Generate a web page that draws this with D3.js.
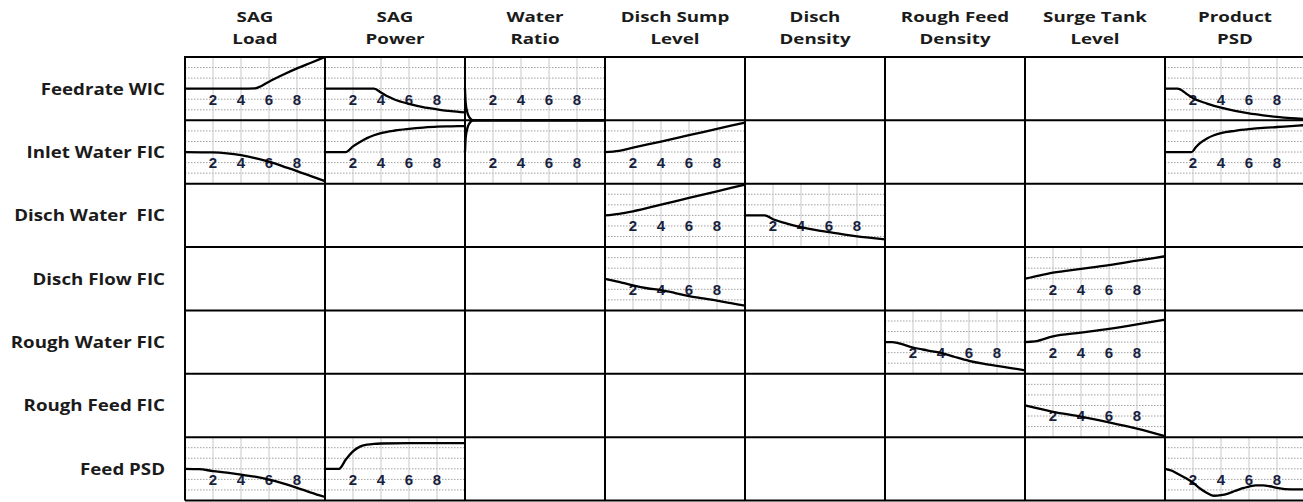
<!DOCTYPE html>
<html>
<head>
<meta charset="utf-8">
<script src="https://cdn.jsdelivr.net/npm/d3@7"></script>
<style>
  body { margin: 0; background: #fff; }
  svg text { white-space: pre; }
</style>
</head>
<body>
<svg width="1303" height="502"></svg>
<script>
// outputs (columns) and inputs (rows)
var colHeads = [["SAG", "Load"], ["SAG", "Power"], ["Water", "Ratio"], ["Disch Sump", "Level"],
                ["Disch", "Density"], ["Rough Feed", "Density"], ["Surge Tank", "Level"], ["Product", "PSD"]];
var rowHeads = ["Feedrate WIC", "Inlet Water FIC", "Disch Water  FIC", "Disch Flow FIC",
                "Rough Water FIC", "Rough Feed FIC", "Feed PSD"];
var xTicks = [2, 4, 6, 8];

// step responses, [time, normalised response]
var feedSagLoad = [[0,0],[4,0],[5,0.01],[6,0.22],[7,0.44],[8,0.64],[9,0.82],[10,1.0]];
var feedSagPower = [[0,0],[3.5,0],[4,-0.12],[4.5,-0.25],[5,-0.35],[6,-0.48],[7,-0.58],[8,-0.65],[9,-0.71],[10,-0.75]];
var feedWaterRatio = [[0,0],[0.05,-0.45],[0.15,-0.72],[0.3,-0.9],[0.6,-1],[10,-1]];
var feedProductPsd = [[0,0],[0.9,0],[1.5,-0.15],[2,-0.3],[3,-0.47],[4,-0.6],[5,-0.7],[6,-0.78],[7,-0.84],[8,-0.89],[9,-0.93],[10,-0.96]];
var inletSagLoad = [[0,0],[2,-0.01],[3,-0.04],[4,-0.1],[5,-0.19],[6,-0.3],[7,-0.45],[8,-0.6],[9,-0.76],[10,-0.92]];
var inletSagPower = [[0,0],[1.5,0],[2,0.18],[2.5,0.32],[3,0.44],[3.5,0.53],[4,0.6],[5,0.68],[6,0.73],[7,0.77],[8,0.8],[9,0.81],[10,0.82]];
var inletWaterRatio = [[0,0],[0.05,0.45],[0.15,0.72],[0.3,0.9],[0.6,1],[10,1]];
var inletSumpLevel = [[0,0],[1,0.04],[2,0.14],[4,0.33],[6,0.53],[8,0.73],[10,0.93]];
var inletProductPsd = [[0,0],[1.9,0],[2.2,0.15],[2.5,0.28],[3,0.43],[3.5,0.53],[4,0.6],[5,0.67],[6,0.72],[7,0.76],[8,0.79],[9,0.82],[10,0.85]];
var dischWaterSumpLevel = [[0,0],[1,0.05],[2,0.13],[4,0.34],[6,0.55],[8,0.76],[10,0.97]];
var dischWaterDensity = [[0,0],[1.4,0],[2,-0.12],[3,-0.26],[4,-0.37],[5,-0.46],[6,-0.53],[7,-0.6],[8,-0.66],[9,-0.71],[10,-0.76]];
var dischFlowSumpLevel = [[0,0],[1,-0.1],[2,-0.21],[3,-0.3],[4,-0.36],[5,-0.45],[6,-0.55],[7,-0.62],[8,-0.69],[9,-0.77],[10,-0.85]];
var dischFlowSurge = [[0,0],[1,0.1],[2,0.19],[4,0.31],[6,0.43],[8,0.57],[10,0.71]];
var roughWaterDensity = [[0,0],[0.5,0],[1,-0.04],[2,-0.17],[3,-0.26],[4,-0.34],[5,-0.47],[6,-0.59],[7,-0.68],[8,-0.75],[9,-0.82],[10,-0.89]];
var roughWaterSurge = [[0,0],[0.7,0.02],[2,0.18],[4,0.3],[6,0.42],[8,0.56],[10,0.71]];
var roughFeedSurge = [[0,0],[2,-0.2],[4,-0.35],[6,-0.53],[8,-0.73],[10,-0.97]];
var feedPsdSagLoad = [[0,0],[1,-0.01],[2,-0.07],[3,-0.12],[4,-0.18],[5,-0.25],[6,-0.34],[7,-0.46],[8,-0.6],[9,-0.75],[10,-0.89]];
var feedPsdSagPower = [[0,0],[1,0],[1.5,0.3],[2,0.55],[2.5,0.7],[3,0.76],[3.5,0.79],[4,0.8],[6,0.81],[8,0.81],[10,0.81]];
var feedPsdProductPsd = [[0,0],[0.5,-0.06],[1,-0.18],[1.5,-0.3],[2,-0.44],[2.5,-0.62],[3,-0.76],[3.5,-0.85],[4,-0.83],[4.5,-0.78],
                         [5,-0.7],[5.5,-0.62],[6,-0.56],[6.5,-0.52],[7,-0.52],[7.5,-0.55],[8,-0.6],[9,-0.65],[10,-0.65]];

// which input -> output pair each response belongs to (row index, column index)
var responses = [
  {row: 0, col: 0, pts: feedSagLoad}, {row: 0, col: 1, pts: feedSagPower},
  {row: 0, col: 2, pts: feedWaterRatio}, {row: 0, col: 7, pts: feedProductPsd},
  {row: 1, col: 0, pts: inletSagLoad}, {row: 1, col: 1, pts: inletSagPower},
  {row: 1, col: 2, pts: inletWaterRatio}, {row: 1, col: 3, pts: inletSumpLevel},
  {row: 1, col: 7, pts: inletProductPsd},
  {row: 2, col: 3, pts: dischWaterSumpLevel}, {row: 2, col: 4, pts: dischWaterDensity},
  {row: 3, col: 3, pts: dischFlowSumpLevel}, {row: 3, col: 6, pts: dischFlowSurge},
  {row: 4, col: 5, pts: roughWaterDensity}, {row: 4, col: 6, pts: roughWaterSurge},
  {row: 5, col: 6, pts: roughFeedSurge},
  {row: 6, col: 0, pts: feedPsdSagLoad}, {row: 6, col: 1, pts: feedPsdSagPower},
  {row: 6, col: 7, pts: feedPsdProductPsd}
];

var svg = d3.select("svg"),
    width = +svg.attr("width"),
    height = +svg.attr("height");

var colBand = d3.scaleBand().domain(d3.range(colHeads.length)).range([185, 1305]);
var rowBand = d3.scaleBand().domain(d3.range(rowHeads.length)).range([57, 500.5]);

var labelFont = "'Open Sans', sans-serif";

// column headings
var heads = svg.append("g").attr("class", "col-heads");
colHeads.forEach(function(lines, i) {
  var cx = colBand(i) + colBand.bandwidth() / 2;
  lines.forEach(function(s, k) {
    heads.append("text")
      .attr("transform", "translate(" + cx + "," + (21.5 + k * 22.5) + ") scale(1.25,1)")
      .attr("text-anchor", "middle")
      .attr("font-family", labelFont)
      .attr("font-weight", 700)
      .attr("font-size", 15)
      .attr("fill", "#1b1b1b")
      .text(s);
  });
});

// row headings
svg.append("g").attr("class", "row-heads")
  .selectAll("text")
  .data(rowHeads)
  .join("text")
    .attr("transform", function(d, i) {
      return "translate(165," + (rowBand(i) + rowBand.bandwidth() / 2 + 6) + ") scale(1.17,1)";
    })
    .attr("text-anchor", "end")
    .attr("font-family", labelFont)
    .attr("font-weight", 700)
    .attr("font-size", 16)
    .attr("fill", "#1b1b1b")
    .text(function(d) { return d; });

// one small plot per response
var cells = svg.append("g").attr("class", "cells");

responses.forEach(function(r) {
  var x = d3.scaleLinear().domain([0, 10]).range([colBand(r.col), colBand(r.col) + colBand.bandwidth()]);
  var y = d3.scaleLinear().domain([-1, 1]).range([rowBand(r.row) + rowBand.bandwidth(), rowBand(r.row)]);
  var g = cells.append("g");

  // horizontal dotted grid, thirds of the half-height
  g.selectAll(".hgrid")
    .data(d3.range(-2, 3).map(function(k) { return k / 3; }))
    .join("line")
      .attr("x1", x(0)).attr("x2", x(10))
      .attr("y1", function(v) { return y(v); })
      .attr("y2", function(v) { return y(v); })
      .attr("stroke", "#a0a0a0")
      .attr("stroke-width", 1)
      .attr("stroke-dasharray", "1.5,1.5");

  // vertical grid
  g.selectAll(".vgrid")
    .data(xTicks)
    .join("line")
      .attr("x1", function(t) { return x(t); })
      .attr("x2", function(t) { return x(t); })
      .attr("y1", y(1)).attr("y2", y(-1))
      .attr("stroke", "#c8c8c8")
      .attr("stroke-width", 1);

  // time tick labels just under the zero line
  g.selectAll(".tick")
    .data(xTicks)
    .join("text")
      .attr("x", function(t) { return x(t); })
      .attr("y", y(0) + 16)
      .attr("text-anchor", "middle")
      .attr("font-family", "'Liberation Sans Narrow', 'Arial Narrow', 'Liberation Sans', sans-serif")
      .attr("font-stretch", "condensed")
      .attr("font-weight", 700)
      .attr("font-size", 15)
      .attr("fill", "#16213d")
      .text(function(t) { return t; });

  var line = d3.line()
    .x(function(p) { return x(p[0]); })
    .y(function(p) { return y(p[1]); })
    .curve(d3.curveMonotoneX);

  g.append("path")
    .attr("d", line(r.pts))
    .attr("fill", "none")
    .attr("stroke", "#000")
    .attr("stroke-width", 2.3)
    .attr("stroke-linejoin", "round");
});

// matrix borders
var borders = svg.append("g").attr("class", "borders")
  .attr("stroke", "#000")
  .attr("stroke-width", 2);

d3.range(colHeads.length + 1).forEach(function(i) {
  var xv = 185 + i * colBand.step();
  borders.append("line")
    .attr("x1", xv).attr("x2", xv)
    .attr("y1", rowBand.range()[0] - 1).attr("y2", rowBand.range()[1]);
});
d3.range(rowHeads.length + 1).forEach(function(j) {
  var yv = rowBand.range()[0] + j * rowBand.step();
  borders.append("line")
    .attr("x1", 185).attr("x2", width)
    .attr("y1", yv).attr("y2", yv);
});
</script>
</body>
</html>
